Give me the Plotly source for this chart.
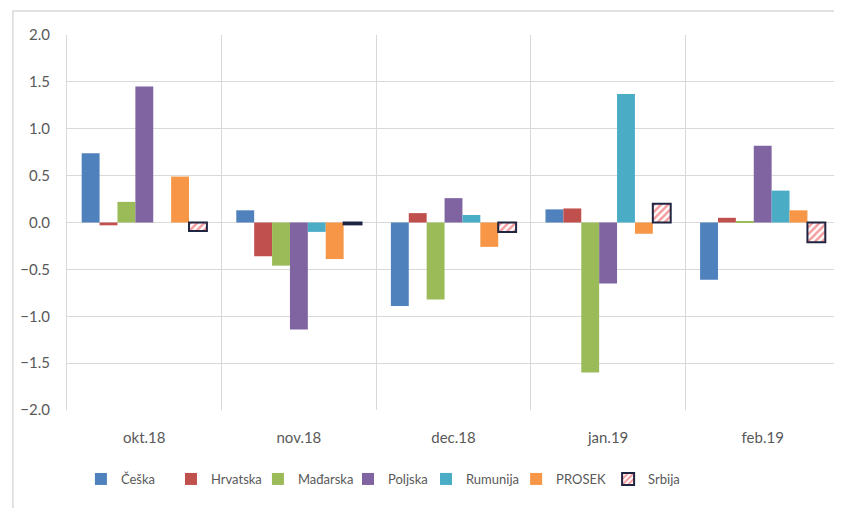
import plotly.graph_objects as go

months = ["okt.18", "nov.18", "dec.18", "jan.19", "feb.19"]

ceska = [0.74, 0.13, -0.89, 0.14, -0.61]
hrvatska = [-0.03, -0.36, 0.10, 0.15, 0.05]
madjarska = [0.22, -0.46, -0.82, -1.60, 0.01]
poljska = [1.45, -1.14, 0.26, -0.65, 0.82]
rumunija = [None, -0.10, 0.08, 1.37, 0.34]
prosek = [0.49, -0.39, -0.26, -0.12, 0.13]
srbija = [-0.09, -0.02, -0.10, 0.20, -0.21]

series = [
    ("Češka", ceska, "#4F81BD"),
    ("Hrvatska", hrvatska, "#C0504D"),
    ("Mađarska", madjarska, "#9BBB59"),
    ("Poljska", poljska, "#8064A2"),
    ("Rumunija", rumunija, "#4BACC6"),
    ("PROSEK", prosek, "#F79646"),
]

font = "Lato, 'Open Sans', sans-serif"

# one small legend per entry so the spacing follows the original
legend_x = [0.018, 0.1345, 0.247, 0.3635, 0.4644, 0.581, 0.700]
legend_keys = ["legend"] + ["legend%d" % i for i in range(2, 8)]

fig = go.Figure()
for i, (name, vals, color) in enumerate(series):
    fig.add_trace(go.Bar(x=months, y=vals, name=name, legend=legend_keys[i],
                         showlegend=True,
                         marker=dict(color=color, line=dict(width=0))))

# Srbija: white with red hatching and a dark outline
fig.add_trace(go.Bar(
    x=months, y=srbija, name="Srbija", legend=legend_keys[6], showlegend=True,
    marker=dict(
        color="white",
        line=dict(color="#1F2440", width=2),
        pattern=dict(shape="/", fgcolor="#E8373C", bgcolor="white",
                     size=5, solidity=0.5),
    ),
))

legends = {}
for key, lx in zip(legend_keys, legend_x):
    legends[key] = dict(orientation="h", x=lx, xanchor="left", y=-0.144, yanchor="top",
                        font=dict(family=font, size=13, color="#595959"),
                        itemwidth=30, bgcolor="rgba(0,0,0,0)")

# page body has an 8px margin, so the figure is a bit smaller than the window
fig.update_layout(
    width=834, height=500,
    showlegend=True,
    barmode="group", bargap=0.19, bargroupgap=0,
    plot_bgcolor="white", paper_bgcolor="white",
    margin=dict(l=59, r=2, t=27, b=98),
    font=dict(family=font, color="#595959", size=15),
    shapes=[dict(type="rect", xref="paper", yref="paper",
                 x0=-0.07, x1=1.02, y0=-0.4, y1=1.064,
                 line=dict(color="#D9D9D9", width=1.5), layer="below")],
    **legends,
)

fig.update_xaxes(
    type="category", tickson="boundaries", showgrid=True,
    gridcolor="#D9D9D9", gridwidth=1, ticks="", showline=False,
    tickfont=dict(size=15, color="#595959"), ticklabelstandoff=17,
)
fig.update_yaxes(
    range=[-2.0, 2.0], dtick=0.5, tickformat=".1f",
    showgrid=True, gridcolor="#D9D9D9", gridwidth=1,
    zeroline=True, zerolinecolor="#D9D9D9", zerolinewidth=1,
    showline=True, linecolor="#D9D9D9", mirror=True,
    ticks="", ticklabelstandoff=13,
    tickfont=dict(size=15, color="#595959"),
)

fig.write_html("out.html")
